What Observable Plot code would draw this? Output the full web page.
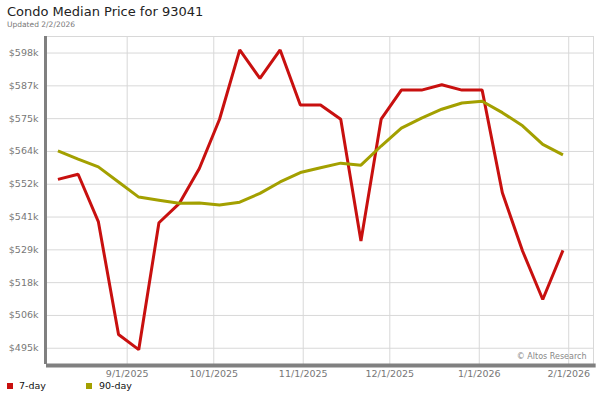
<!DOCTYPE html>
<html>
<head>
<meta charset="utf-8">
<script src="https://cdn.jsdelivr.net/npm/d3@7"></script>
<script src="https://cdn.jsdelivr.net/npm/@observablehq/plot@0.6"></script>
<style>
  html, body { margin: 0; padding: 0; background: #fff; }
  body { width: 600px; height: 400px; overflow: hidden; font-family: "DejaVu Sans", sans-serif; }
  #head { height: 30px; position: relative; }
  #title { position: absolute; left: 7px; top: 4px; font-size: 13px; color: #222; }
  #updated { position: absolute; left: 7px; top: 20px; font-size: 7.5px; color: #777; }
  #chart { height: 350px; }
  #legend { position: relative; height: 20px; font-size: 9.5px; color: #111; }
  .sw { position: absolute; top: 3px; width: 6px; height: 6px; }
  .lt { position: absolute; top: 0px; }
</style>
</head>
<body>
<div id="head">
  <div id="title">Condo Median Price for 93041</div>
  <div id="updated">Updated 2/2/2026</div>
</div>
<div id="chart"></div>
<div id="legend">
  <div class="sw" style="left:7px;background:#c8100f"></div><div class="lt" style="left:19px">7-day</div>
  <div class="sw" style="left:86px;background:#a3a000"></div><div class="lt" style="left:99px">90-day</div>
</div>
<script>
// weekly dates (Fridays) from 2025-08-08 to 2026-01-30
const dates = ["2025-08-08","2025-08-15","2025-08-22","2025-08-29","2025-09-05","2025-09-12","2025-09-19","2025-09-26",
  "2025-10-03","2025-10-10","2025-10-17","2025-10-24","2025-10-31","2025-11-07","2025-11-14","2025-11-21","2025-11-28",
  "2025-12-05","2025-12-12","2025-12-19","2025-12-26","2026-01-02","2026-01-09","2026-01-16","2026-01-23","2026-01-30"];
const sevenDay = [554200,556000,539400,499800,494500,539000,545700,558000,575300,599600,589600,599600,580300,580300,
  575300,532600,575300,585500,585500,587400,585500,585500,549500,529100,512100,529300];
const ninetyDay = [564200,561300,558600,553300,548000,546900,545800,545900,545200,546200,549300,553300,556600,558300,
  559900,559200,565900,572200,575700,578800,581000,581600,577600,573000,566500,562800];
const yTicks = [495000,506500,518000,529500,541000,552500,564000,575500,587000,598500];
const xTickDates = ["2025-09-01","2025-10-01","2025-11-01","2025-12-01","2026-01-01","2026-02-01"];

const parse = s => new Date(s + "T00:00:00Z");
const rows = [];
dates.forEach((d, i) => {
  rows.push({date: parse(d), value: sevenDay[i], series: "7-day"});
});
dates.forEach((d, i) => {
  rows.push({date: parse(d), value: ninetyDay[i], series: "90-day"});
});
const xTicks = xTickDates.map(parse);
const fmtDate = d => `${d.getUTCMonth() + 1}/${d.getUTCDate()}/${d.getUTCFullYear()}`;
const fmtY = v => "$" + Math.floor(v / 1000) + "k";
const yDomain = [489300, 604300];
const xDomain = [new Date(Date.UTC(2025, 7, 4, 1)), new Date(Date.UTC(2026, 1, 9, 14))];

const chart = Plot.plot({
  width: 600,
  height: 350,
  marginLeft: 46,
  marginRight: 7,
  marginTop: 6,
  marginBottom: 16,
  style: {fontFamily: "DejaVu Sans, sans-serif", fontSize: "9.5px", color: "#777", background: "#fff"},
  x: {type: "utc", domain: xDomain, label: null},
  y: {domain: yDomain, label: null},
  color: {domain: ["7-day", "90-day"], range: ["#c8100f", "#a3a000"]},
  marks: [
    Plot.gridY(yTicks, {stroke: "#d8d8d8", strokeOpacity: 1, strokeWidth: 1}),
    Plot.gridX(xTicks, {stroke: "#d8d8d8", strokeOpacity: 1, strokeWidth: 1}),
    Plot.frame({stroke: "#d8d8d8"}),
    Plot.axisY(yTicks, {tickSize: 0, tickPadding: 8, tickFormat: fmtY, fill: "#777", label: null}),
    Plot.axisX(xTicks, {tickSize: 0, tickPadding: 6, tickFormat: fmtDate, fill: "#777", label: null}),
    Plot.line(rows, {x: "date", y: "value", z: "series", stroke: "series", strokeWidth: 3, strokeLinejoin: "miter", strokeLinecap: "butt"}),
    Plot.ruleX([xDomain[0]], {stroke: "#808080", strokeWidth: 3, dx: -1}),
    Plot.ruleY([yDomain[0]], {stroke: "#808080", strokeWidth: 4, dy: 1, x1: xDomain[0], x2: new Date(Date.UTC(2026, 1, 10, 12))}),
    Plot.text(["© Altos Research"], {frameAnchor: "bottom-right", textAnchor: "end", lineAnchor: "bottom", dx: -7, dy: -6, fontSize: 8, fill: "#888"})
  ]
});
document.getElementById("chart").appendChild(chart);
</script>
</body>
</html>
